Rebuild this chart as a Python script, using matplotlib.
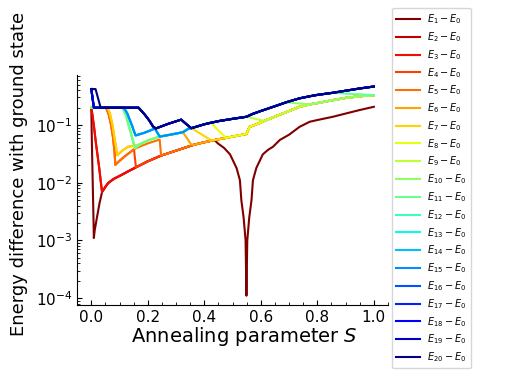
import numpy as np
import matplotlib
matplotlib.use("Agg")
import matplotlib.pyplot as plt
from matplotlib.ticker import MultipleLocator, LogLocator, NullFormatter

# ---------------- data ----------------
plateau = 0.2
top_start = 0.42

e1_early_s = [0.0, 0.002, 0.005, 0.008, 0.009, 0.012, 0.018, 0.029]
e1_early_v = [0.2, 0.05, 0.01, 0.002, 0.0011, 0.0015, 0.0022, 0.0044]

e1_late_s = [0.448, 0.47, 0.491, 0.514, 0.526, 0.531, 0.539, 0.546, 0.549,
             0.552, 0.559, 0.567, 0.572, 0.584, 0.607, 0.625, 0.643, 0.667,
             0.7, 0.737, 0.773, 0.8, 0.855, 0.9, 0.95, 1.0]
e1_late_v = [0.048, 0.04, 0.031, 0.018, 0.011, 0.005, 0.0025, 0.001, 0.00011,
             0.001, 0.0025, 0.005, 0.011, 0.018, 0.031, 0.037, 0.042, 0.055,
             0.068, 0.093, 0.114, 0.122, 0.139, 0.158, 0.182, 0.207]

red_fall_s = [0.0, 0.004, 0.01, 0.016, 0.022, 0.028, 0.033]
red_fall_v = [0.2, 0.15, 0.09, 0.05, 0.03, 0.018, 0.011]

env_s = [0.038, 0.05, 0.06, 0.08, 0.1, 0.13, 0.158, 0.2, 0.247, 0.3, 0.36,
         0.39, 0.436, 0.478, 0.5, 0.549]
env_v = [0.0069, 0.0085, 0.0099, 0.0117, 0.0131, 0.0157, 0.0185, 0.0235,
         0.0295, 0.036, 0.045, 0.049, 0.055, 0.060, 0.063, 0.070]

env2_s = [0.56, 0.578, 0.613, 0.65, 0.7, 0.737, 0.773, 0.8, 0.855, 0.9, 0.95, 1.0]
env2_v = [0.093, 0.10, 0.118, 0.14, 0.175, 0.207, 0.228, 0.24, 0.27, 0.295, 0.315, 0.33]

orange_fall_s = [0.052, 0.062, 0.07, 0.077, 0.082, 0.085]
orange_fall_v = [0.2, 0.15, 0.1, 0.06, 0.035, 0.0204]
r2_s = [0.1, 0.12, 0.151, 0.175, 0.2, 0.242]
r2_v = [0.024, 0.029, 0.038, 0.043, 0.048, 0.056]

gold_fall_s = [0.058, 0.067, 0.075, 0.082, 0.088, 0.092]
gold_fall_v = [0.2, 0.15, 0.1, 0.06, 0.04, 0.030]
r3_s = [0.11, 0.13, 0.155]
r3_v = [0.036, 0.042, 0.044]

green_fall_s = [0.11, 0.122, 0.132, 0.141, 0.149, 0.155]
green_fall_v = [0.2, 0.15, 0.1, 0.07, 0.05, 0.040]
green_rise_s = [0.171, 0.2, 0.242]
green_rise_v = [0.046, 0.054, 0.063]

blue_fall_s = [0.115, 0.127, 0.137, 0.145, 0.151, 0.157]
blue_fall_v = [0.2, 0.16, 0.12, 0.095, 0.078, 0.066]
blue_rise_s = [0.19, 0.21, 0.225]
blue_rise_v = [0.074, 0.081, 0.087]

mid_s = [0.242, 0.28, 0.324]
mid_v = [0.063, 0.068, 0.075]
join_s = [0.345]
join_v = [0.087]

navy_s = [0.167, 0.19, 0.205, 0.218, 0.228, 0.27, 0.318, 0.335, 0.354, 0.4,
          0.425, 0.455, 0.5, 0.549, 0.57, 0.6, 0.65, 0.69, 0.737, 0.773, 0.8,
          0.855, 0.9, 0.95, 1.0]
navy_v = [0.2, 0.15, 0.12, 0.095, 0.087, 0.104, 0.124, 0.105, 0.088, 0.103,
          0.11, 0.118, 0.128, 0.139, 0.155, 0.175, 0.212, 0.248, 0.29, 0.315,
          0.333, 0.362, 0.393, 0.43, 0.465]

e6_drop_s = [0.34, 0.352]
e6_drop_v = [0.058, 0.047]
e7_drop_s = [0.38, 0.405, 0.425]
e7_drop_v = [0.074, 0.062, 0.054]
e8_drop_s = [0.44, 0.454, 0.466]
e8_drop_v = [0.09, 0.077, 0.068]
e9_drop_s = [0.58]
e9_drop_v = [0.128]
e10_drop_s = [0.72, 0.75]
e10_drop_v = [0.24, 0.233]
e11_drop_s = [0.9, 0.95, 1.0]
e11_drop_v = [0.35, 0.34, 0.33]

start_top_s = [0.0, 0.009]
start_top_v = [top_start, plateau]
start_e20_s = [0.0, 0.015, 0.033]
start_e20_v = [top_start, top_start, plateau]

labels = [rf"$E_{{{i}}}-E_0$" for i in range(1, 21)]


def part(s, v, lo=-1.0, hi=2.0):
    return [(a, b) for a, b in zip(s, v) if lo <= a <= hi]


def pt(s, v):
    return [(s, v)]


def build(*pieces):
    pts = []
    for p in pieces:
        pts.extend(p)
    return pts


E = {}
E[1] = build(part(e1_early_s, e1_early_v), part(env_s, env_v, hi=0.436),
             part(e1_late_s, e1_late_v))
for k in (2, 3):
    E[k] = build(part(red_fall_s, red_fall_v), part(env_s, env_v),
                 part(env2_s, env2_v))
E[4] = build(pt(0.0, plateau), part(orange_fall_s, orange_fall_v),
             part(r2_s, r2_v, hi=0.151), part(env_s, env_v, lo=0.158),
             part(env2_s, env2_v))
E[5] = build(pt(0.0, plateau), part(orange_fall_s, orange_fall_v),
             part(r2_s, r2_v), part(env_s, env_v, lo=0.247),
             part(env2_s, env2_v))
common67 = build(pt(0.0, plateau), part(gold_fall_s, gold_fall_v),
                 part(r3_s, r3_v), part(green_rise_s, green_rise_v, hi=0.2),
                 part(mid_s, mid_v))
E[6] = build(common67, part(e6_drop_s, e6_drop_v),
             part(env_s, env_v, lo=0.36), part(env2_s, env2_v))
E[7] = build(common67, part(join_s, join_v), part(navy_s, navy_v, 0.354, 0.354),
             part(e7_drop_s, e7_drop_v), part(env_s, env_v, lo=0.436),
             part(env2_s, env2_v))
common_green = build(pt(0.0, plateau), part(green_fall_s, green_fall_v),
                     part(green_rise_s, green_rise_v, hi=0.2),
                     part(mid_s, mid_v), part(join_s, join_v))
E[8] = build(common_green, part(navy_s, navy_v, 0.354, 0.425),
             part(e8_drop_s, e8_drop_v), part(env_s, env_v, lo=0.478),
             part(env2_s, env2_v))
E[9] = build(common_green, part(navy_s, navy_v, 0.354, 0.549),
             part(e9_drop_s, e9_drop_v), part(env2_s, env2_v, lo=0.613))
E[10] = build(common_green, part(navy_s, navy_v, 0.354, 0.69),
              part(e10_drop_s, e10_drop_v), part(env2_s, env2_v, lo=0.773))
E[11] = build(common_green, part(navy_s, navy_v, 0.354, 0.855),
              part(e11_drop_s, e11_drop_v))
for k in (12, 13, 14, 15):
    E[k] = build(part(start_top_s, start_top_v), part(blue_fall_s, blue_fall_v),
                 part(blue_rise_s, blue_rise_v), part(mid_s, mid_v),
                 part(join_s, join_v), part(navy_s, navy_v, lo=0.354))
for k in (16, 17, 18, 19):
    E[k] = build(part(start_top_s, start_top_v), part(navy_s, navy_v))
E[20] = build(part(start_e20_s, start_e20_v), part(navy_s, navy_v))

# ---------------- plot ----------------
fig = plt.figure(figsize=(5.18, 3.82), dpi=100)
ax = fig.add_axes([0.149, 0.2016, 0.60, 0.6024])
colors = plt.cm.jet(np.linspace(1, 0, 20))

handles = []
for k in range(1, 21):
    xs = [p[0] for p in E[k]]
    ys = [p[1] for p in E[k]]
    h, = ax.plot(xs, ys, color=colors[k - 1], lw=1.5, label=labels[k - 1])
    handles.append(h)

ax.set_yscale("log")
ax.set_xlim(-0.05, 1.05)
ax.set_ylim(7.6e-5, 0.74)
ax.xaxis.set_major_locator(MultipleLocator(0.2))
ax.xaxis.set_minor_locator(MultipleLocator(0.05))
ax.yaxis.set_major_locator(LogLocator(base=10, numticks=10))
ax.yaxis.set_minor_locator(LogLocator(base=10, subs=np.arange(2, 10), numticks=20))
ax.yaxis.set_minor_formatter(NullFormatter())
ax.tick_params(which="both", direction="in", labelsize=11)
ax.spines["top"].set_visible(False)
ax.spines["right"].set_visible(False)
ax.set_xlabel("Annealing parameter $S$", fontsize=14)
ax.set_ylabel("Energy difference with ground state", fontsize=13)
ax.xaxis.set_label_coords(0.537, -0.085)
ax.yaxis.set_label_coords(-0.158, 0.57)

fig.legend(handles=handles, loc="upper left", bbox_to_anchor=(392 / 518, 1 - 8 / 382),
           fontsize=7, labelspacing=0.41, borderaxespad=0.0, handlelength=2.4,
           handletextpad=0.75, borderpad=0.45)

fig.savefig("out.png", dpi=100)
